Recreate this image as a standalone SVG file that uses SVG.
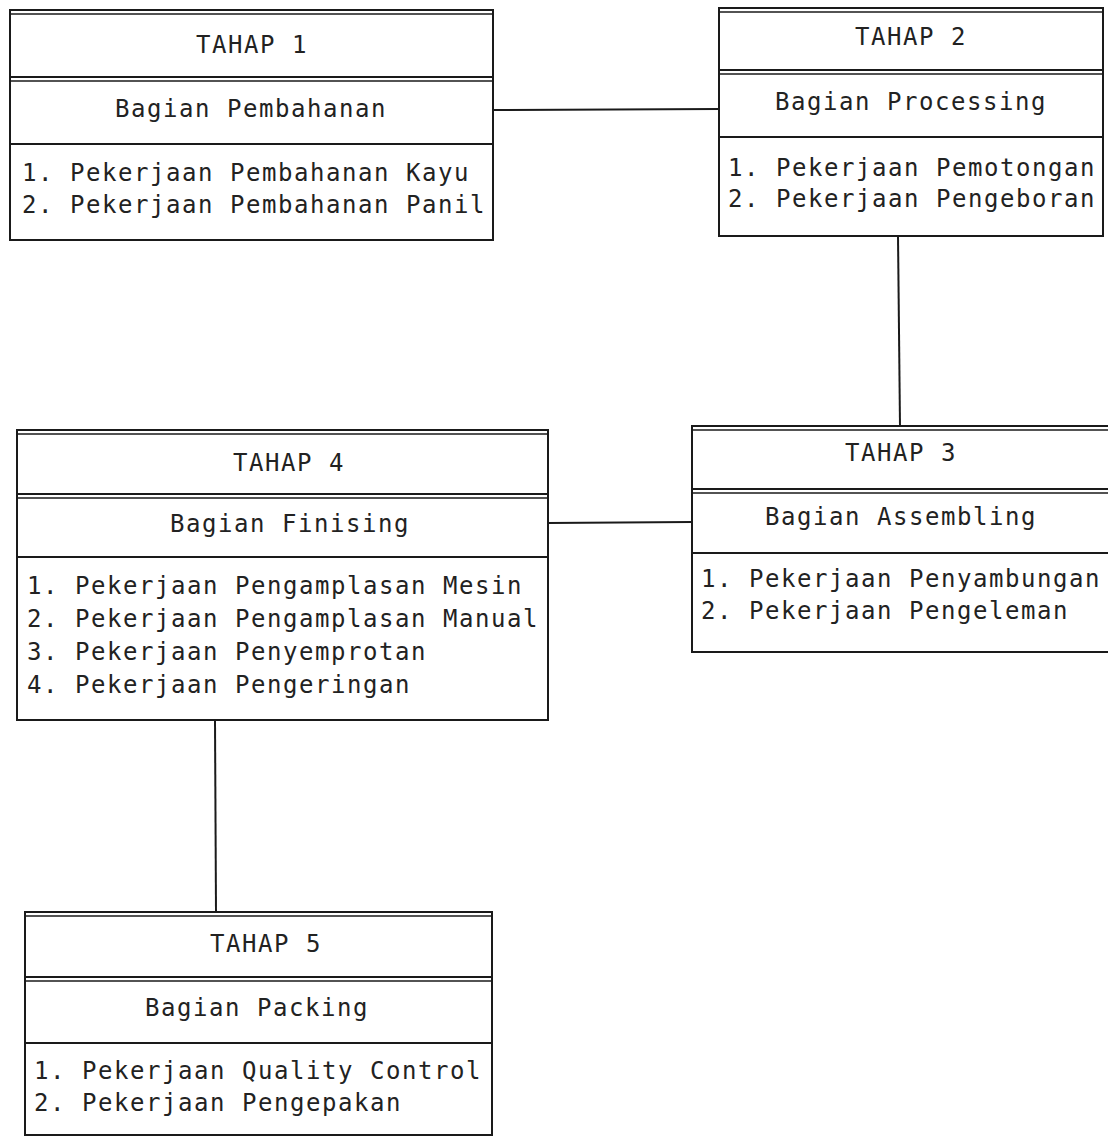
<svg xmlns="http://www.w3.org/2000/svg" width="1108" height="1138" viewBox="0 0 1108 1138">
<style>
.bg{fill:#ffffff}
.box{fill:none;stroke:#1a1a1a;stroke-width:2}
.ln{stroke:#1a1a1a;stroke-width:2;fill:none}
.thin{stroke:#1a1a1a;stroke-width:1.6;fill:none}
.t{font-family:"DejaVu Sans Mono","Liberation Mono",monospace;font-size:24px;letter-spacing:1.55px;fill:#222}
</style>
<rect class="bg" x="0" y="0" width="1108" height="1138"/>
<g id="connectors">
<line class="ln" x1="493" y1="110" x2="719" y2="109"/>
<line class="ln" x1="898" y1="236" x2="900" y2="426"/>
<line class="ln" x1="548" y1="523" x2="692" y2="522"/>
<line class="ln" x1="215" y1="720" x2="216" y2="912"/>
</g>
<g id="tahap1">
<rect class="box" x="10" y="10" width="483" height="230"/>
<line class="thin" x1="10" y1="14" x2="493" y2="14"/>
<line class="ln" x1="10" y1="77" x2="493" y2="77"/>
<line class="thin" x1="10" y1="81" x2="493" y2="81"/>
<line class="ln" x1="10" y1="144" x2="493" y2="144"/>
<text class="t" x="196" y="53">TAHAP 1</text>
<text class="t" x="115" y="117">Bagian Pembahanan</text>
<text class="t" x="22" y="181">1. Pekerjaan Pembahanan Kayu</text>
<text class="t" x="22" y="213">2. Pekerjaan Pembahanan Panil</text>
</g>
<g id="tahap2">
<rect class="box" x="719" y="8" width="384" height="228"/>
<line class="thin" x1="719" y1="12" x2="1103" y2="12"/>
<line class="ln" x1="719" y1="70" x2="1103" y2="70"/>
<line class="thin" x1="719" y1="74" x2="1103" y2="74"/>
<line class="ln" x1="719" y1="137" x2="1103" y2="137"/>
<text class="t" x="855" y="45">TAHAP 2</text>
<text class="t" x="775" y="110">Bagian Processing</text>
<text class="t" x="728" y="176">1. Pekerjaan Pemotongan</text>
<text class="t" x="728" y="207">2. Pekerjaan Pengeboran</text>
</g>
<g id="tahap3">
<rect class="box" x="692" y="426" width="424" height="226"/>
<line class="thin" x1="692" y1="430" x2="1116" y2="430"/>
<line class="ln" x1="692" y1="489" x2="1116" y2="489"/>
<line class="thin" x1="692" y1="493" x2="1116" y2="493"/>
<line class="ln" x1="692" y1="553" x2="1116" y2="553"/>
<text class="t" x="845" y="461">TAHAP 3</text>
<text class="t" x="765" y="525">Bagian Assembling</text>
<text class="t" x="701" y="587">1. Pekerjaan Penyambungan</text>
<text class="t" x="701" y="619">2. Pekerjaan Pengeleman</text>
</g>
<g id="tahap4">
<rect class="box" x="17" y="430" width="531" height="290"/>
<line class="thin" x1="17" y1="434" x2="548" y2="434"/>
<line class="ln" x1="17" y1="494" x2="548" y2="494"/>
<line class="thin" x1="17" y1="498" x2="548" y2="498"/>
<line class="ln" x1="17" y1="557" x2="548" y2="557"/>
<text class="t" x="233" y="471">TAHAP 4</text>
<text class="t" x="170" y="532">Bagian Finising</text>
<text class="t" x="27" y="594">1. Pekerjaan Pengamplasan Mesin</text>
<text class="t" x="27" y="627">2. Pekerjaan Pengamplasan Manual</text>
<text class="t" x="27" y="660">3. Pekerjaan Penyemprotan</text>
<text class="t" x="27" y="693">4. Pekerjaan Pengeringan</text>
</g>
<g id="tahap5">
<rect class="box" x="25" y="912" width="467" height="223"/>
<line class="thin" x1="25" y1="916" x2="492" y2="916"/>
<line class="ln" x1="25" y1="977" x2="492" y2="977"/>
<line class="thin" x1="25" y1="981" x2="492" y2="981"/>
<line class="ln" x1="25" y1="1043" x2="492" y2="1043"/>
<text class="t" x="210" y="952">TAHAP 5</text>
<text class="t" x="145" y="1016">Bagian Packing</text>
<text class="t" x="34" y="1079">1. Pekerjaan Quality Control</text>
<text class="t" x="34" y="1111">2. Pekerjaan Pengepakan</text>
</g>
</svg>
